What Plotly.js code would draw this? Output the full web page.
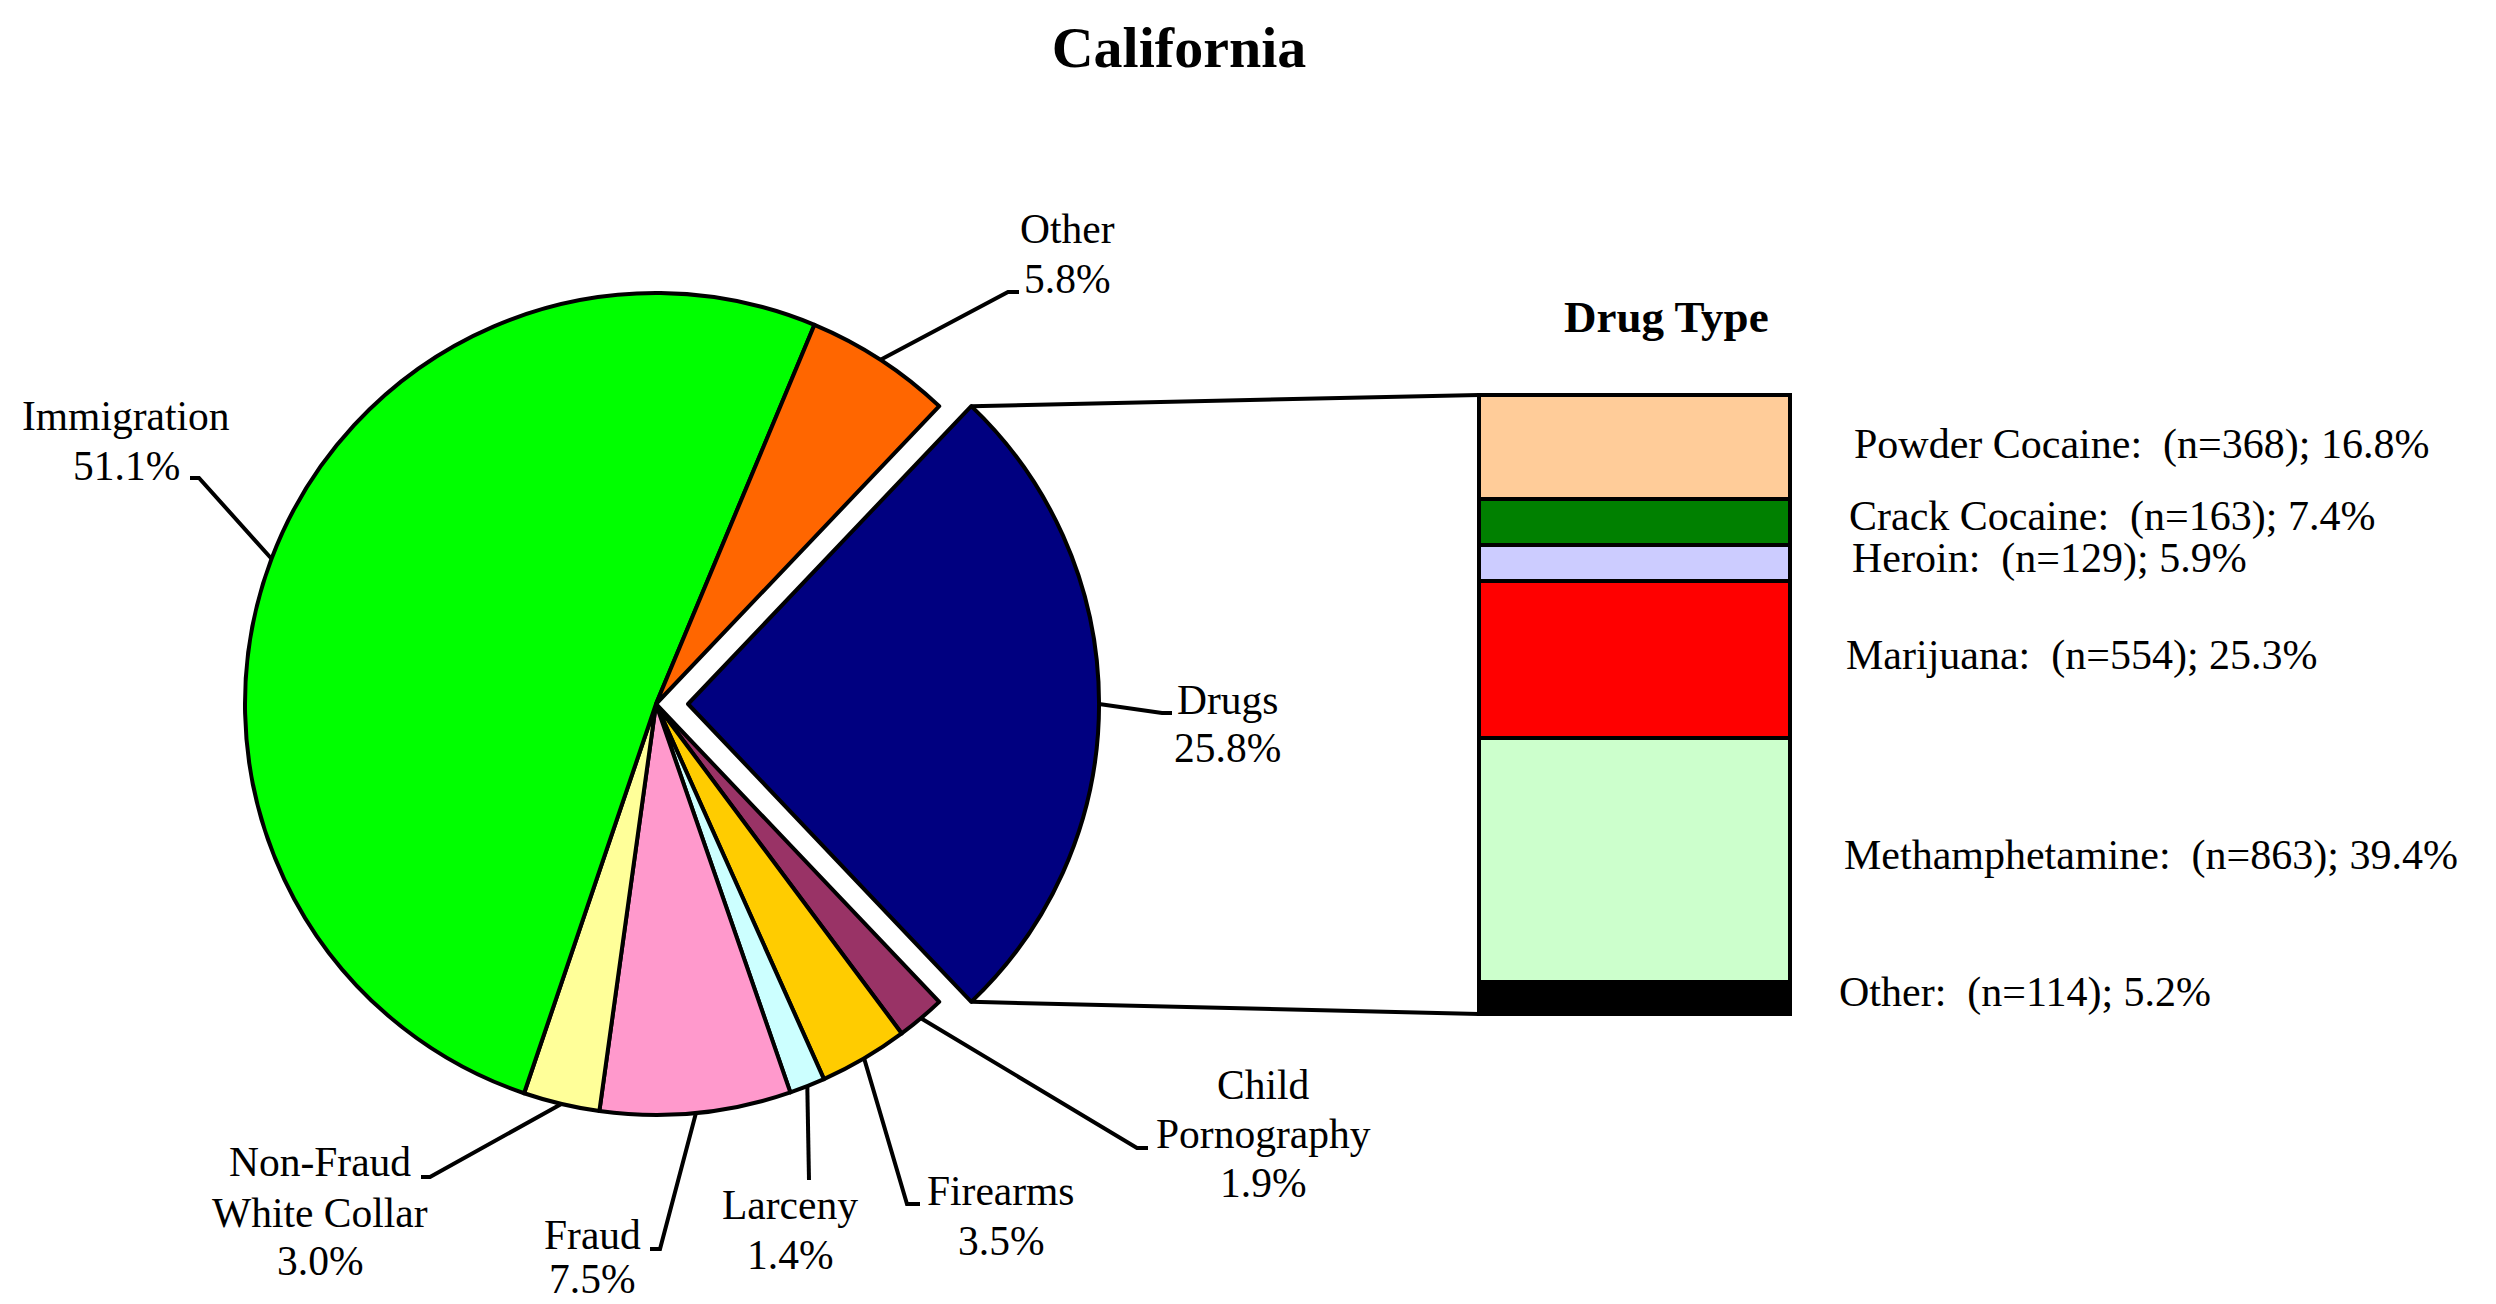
<!DOCTYPE html>
<html>
<head>
<meta charset="utf-8">
<script src="https://cdn.plot.ly/plotly-3.0.1.min.js"></script>
<style>
html,body{margin:0;padding:0;background:#ffffff;}
#chart{width:2496px;height:1304px;}
</style>
</head>
<body>
<div id="chart"></div>
<script>
// ---------------- DATA ----------------
const chartTitle = 'California';
const drugPanelTitle = 'Drug Type';
const offenseTypes = ['Drugs', 'Child Pornography', 'Firearms', 'Larceny', 'Fraud', 'Non-Fraud White Collar', 'Immigration', 'Other'];
const offenseLabelLines = [['Drugs'], ['Child', 'Pornography'], ['Firearms'], ['Larceny'], ['Fraud'], ['Non-Fraud', 'White Collar'], ['Immigration'], ['Other']];
const offensePercents = [25.8, 1.9, 3.5, 1.4, 7.5, 3.0, 51.1, 5.8];

const drugTypes = ['Powder Cocaine', 'Crack Cocaine', 'Heroin', 'Marijuana', 'Methamphetamine', 'Other'];
const drugCounts = [368, 163, 129, 554, 863, 114];
const drugPercents = [16.8, 7.4, 5.9, 25.3, 39.4, 5.2];

// ---------------- STYLE / LAYOUT ----------------
const W = 2496, H = 1304;
const FONT = '"Liberation Serif", "Times New Roman", Times, serif';
const offenseColors = ['#000080', '#993366', '#FFCC00', '#CCFFFF', '#FF99CC', '#FFFF99', '#00FF00', '#FF6600'];
const drugColors = ['#FFCC99', '#008000', '#CCCCFF', '#FF0000', '#CCFFCC', '#000000'];
const pullFrac = [0.078, 0, 0, 0, 0, 0, 0, 0];
const PIE = {cx: 656, cy: 704, r: 411};       // pixel geometry of the pie
const BAR = {x0: 1479, x1: 1790, y0: 395, y1: 1014}; // pixel geometry of the stacked bar
const LW = 4;
const pieFont = 41.5, drugFont = 42;

// label placement: elbow of leader, end of short tick, text centre x, baselines
const labelPlace = [
  {elbow: [1162, 713], tick: [1172, 713], cx: 1227, base: [714, 762]},
  {elbow: [1137, 1148], tick: [1148, 1148], cx: 1263, base: [1099, 1148, 1197]},
  {elbow: [907, 1204], tick: [920, 1204], cx: 1001, base: [1205, 1255]},
  {elbow: [809, 1180], tick: [809, 1180], cx: 790, base: [1219, 1269]},
  {elbow: [660, 1249], tick: [650, 1249], cx: 592, base: [1249, 1293]},
  {elbow: [430, 1177], tick: [421, 1177], cx: 320, base: [1176, 1227, 1275]},
  {elbow: [199, 478], tick: [190, 478], cx: 126, base: [430, 480]},
  {elbow: [1008, 292], tick: [1019, 292], cx: 1067, base: [243, 293]}
];
const drugLabelX = [1852, 1847, 1850, 1844, 1842, 1837];
const drugLabelShift = [2, 5, 5, 4, 4, 5];

// ---------------- helpers ----------------
const px2x = p => p / W;
const px2y = p => 1 - p / H;
const deg = Math.PI / 180;

// pie domain from pixel geometry
const maxPull = Math.max(...pullFrac);
const half = PIE.r * (1 + maxPull);
const pieDomain = {
  x: [px2x(PIE.cx - half), px2x(PIE.cx + half)],
  y: [px2y(PIE.cy + half), px2y(PIE.cy - half)]
};
const total = offensePercents.reduce((a, b) => a + b, 0);
const rotation = 90 - offensePercents[0] / total * 180; // centre Drugs at 3 o'clock

// bar axes with a little padding so strokes are not clipped
const xr = [-0.52, 0.52];
const barPxW = BAR.x1 - BAR.x0;           // = 1 data unit
const xDomPx = [(BAR.x0 + BAR.x1) / 2 - barPxW * 0.52, (BAR.x0 + BAR.x1) / 2 + barPxW * 0.52];
const pxPerPct = (BAR.y1 - BAR.y0) / 100;
const yr = [-1.5, 101.5];
const yDomPx = [BAR.y1 + 1.5 * pxPerPct, BAR.y0 - 1.5 * pxPerPct]; // bottom, top (pixels from top)
const xDomain = [px2x(xDomPx[0]), px2x(xDomPx[1])];
const yDomain = [px2y(yDomPx[0]), px2y(yDomPx[1])];
const dataX2px = v => xDomPx[0] + (v - xr[0]) / (xr[1] - xr[0]) * (xDomPx[1] - xDomPx[0]);
const dataY2px = v => yDomPx[0] - (v - yr[0]) / (yr[1] - yr[0]) * (yDomPx[0] - yDomPx[1]);

// ---------------- traces ----------------
const traces = [];
traces.push({
  type: 'pie',
  values: offensePercents,
  labels: offenseTypes,
  sort: false,
  direction: 'clockwise',
  rotation: rotation,
  pull: pullFrac,
  domain: pieDomain,
  marker: {colors: offenseColors, line: {color: '#000000', width: LW}},
  textinfo: 'none',
  hoverinfo: 'skip',
  showlegend: false
});

for (let i = drugTypes.length - 1; i >= 0; i--) {
  traces.push({
    type: 'bar',
    x: [0],
    y: [drugPercents[i]],
    width: [1],
    name: drugTypes[i],
    marker: {color: drugColors[i], line: {color: '#000000', width: LW}},
    hoverinfo: 'skip',
    showlegend: false,
    xaxis: 'x',
    yaxis: 'y'
  });
}

// ---------------- shapes & annotations ----------------
const shapes = [];
const annotations = [];

// leaders and labels for pie slices
let cum = 0;
offensePercents.forEach((v, i) => {
  const a0 = rotation + cum / total * 360;
  const a1 = rotation + (cum + v) / total * 360;
  cum += v;
  const mid = (a0 + a1) / 2 * deg;
  const rr = PIE.r * (1 + pullFrac[i]);
  const sx = PIE.cx + rr * Math.sin(mid);
  const sy = PIE.cy - rr * Math.cos(mid);
  const L = labelPlace[i];
  shapes.push({
    type: 'path', xref: 'paper', yref: 'paper',
    path: `M ${px2x(sx)} ${px2y(sy)} L ${px2x(L.elbow[0])} ${px2y(L.elbow[1])} L ${px2x(L.tick[0])} ${px2y(L.tick[1])}`,
    line: {color: '#000000', width: LW}
  });
  const lines = offenseLabelLines[i].concat([v.toFixed(1) + '%']);
  lines.forEach((t, k) => {
    annotations.push({
      xref: 'paper', yref: 'paper',
      x: px2x(L.cx), y: px2y(L.base[k] - 0.3375 * pieFont),
      xanchor: 'center', yanchor: 'middle',
      text: t, showarrow: false,
      font: {family: FONT, size: pieFont, color: '#000000'}
    });
  });
});

// connectors from exploded Drugs slice to the bar
{
  const a0 = rotation * deg;
  const a1 = (rotation + offensePercents[0] / total * 360) * deg;
  const mid = (a0 + a1) / 2;
  const shift = PIE.r * pullFrac[0];
  const ox = PIE.cx + shift * Math.sin(mid), oy = PIE.cy - shift * Math.cos(mid);
  const top = [ox + PIE.r * Math.sin(a0), oy - PIE.r * Math.cos(a0)];
  const bot = [ox + PIE.r * Math.sin(a1), oy - PIE.r * Math.cos(a1)];
  const barTL = [dataX2px(-0.5), dataY2px(100)];
  const barBL = [dataX2px(-0.5), dataY2px(0)];
  [[top, barTL], [bot, barBL]].forEach(([p, q]) => {
    shapes.push({
      type: 'line', xref: 'paper', yref: 'paper',
      x0: px2x(p[0]), y0: px2y(p[1]), x1: px2x(q[0]), y1: px2y(q[1]),
      line: {color: '#000000', width: LW}
    });
  });
}

// drug labels
let dcum = 0;
drugPercents.forEach((p, i) => {
  const centre = 100 - (dcum + p / 2);
  dcum += p;
  annotations.push({
    xref: 'paper', yref: 'y',
    x: px2x(drugLabelX[i]), y: centre, yshift: drugLabelShift[i],
    xanchor: 'left', yanchor: 'middle',
    text: `${drugTypes[i]}:\u00A0 (n=${drugCounts[i]}); ${p.toFixed(1)}%`,
    showarrow: false,
    font: {family: FONT, size: drugFont, color: '#000000'}
  });
});

// panel title
annotations.push({
  xref: 'paper', yref: 'paper',
  x: px2x(1666), y: px2y(332 - 0.3375 * 45),
  xanchor: 'center', yanchor: 'middle',
  text: '<b>' + drugPanelTitle + '</b>', showarrow: false,
  font: {family: FONT, size: 45, color: '#000000'}
});

const layout = {
  width: W, height: H,
  margin: {l: 0, r: 0, t: 0, b: 0, pad: 0},
  paper_bgcolor: '#ffffff',
  plot_bgcolor: 'rgba(0,0,0,0)',
  showlegend: false,
  barmode: 'stack',
  title: {
    text: '<b>' + chartTitle + '</b>',
    font: {family: FONT, size: 58, color: '#000000'},
    x: px2x(1179), xanchor: 'center', xref: 'paper',
    y: px2y(66 - 0.3375 * 58), yanchor: 'middle', yref: 'container'
  },
  xaxis: {domain: xDomain, range: xr, visible: false, fixedrange: true},
  yaxis: {domain: yDomain, range: yr, visible: false, fixedrange: true},
  shapes: shapes,
  annotations: annotations,
  font: {family: FONT, color: '#000000'}
};

Plotly.newPlot('chart', traces, layout, {displayModeBar: false, staticPlot: true});
</script>
</body>
</html>
